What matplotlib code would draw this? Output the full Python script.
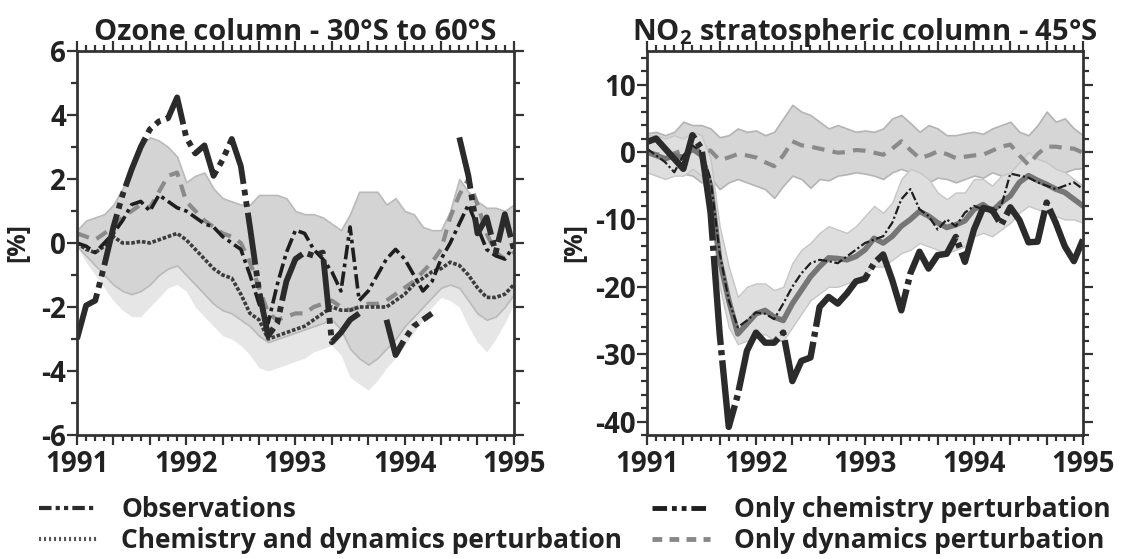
import numpy as np
import matplotlib
matplotlib.use("Agg")
import matplotlib.pyplot as plt
from matplotlib.lines import Line2D
from matplotlib.ticker import FixedLocator, MultipleLocator, FuncFormatter

FONTS = ['Open Sans', 'DejaVu Sans']
plt.rcParams['font.family'] = FONTS
plt.rcParams['font.weight'] = 'bold'
plt.rcParams['axes.unicode_minus'] = False
plt.rcParams['mathtext.fontset'] = 'custom'
plt.rcParams['mathtext.rm'] = 'Open Sans:bold'

# monthly samples, Jan 1991 .. Jan 1995
months = 1991 + np.arange(49) / 12.0
nan = np.nan

# ---- ozone column 30S-60S [%] ----
oz_obs = [-3.0, -1.95, -1.8, -0.7, 0.5, 1.5, 2.3, 3.0, 3.55, 3.8, 3.9, 4.55,
          3.3, 2.8, 3.05, 2.1, 2.6, 3.25, 2.4, 0.5, -1.5, -2.9, -2.5, -1.2,
          -0.5, -0.3, -0.4, -0.3, -3.1, -2.8, -2.4, -2.2, nan, nan, -2.4, -3.5,
          -3.0, -2.6, -2.4, -2.2, nan, nan, 3.3, 2.1, 0.3, 0.8, -0.3, 0.9, -0.2]
oz_chemdyn = [0.0, -0.2, -0.3, -0.1, 0.2, 0.0, 0.0, 0.05, 0.0, 0.1, 0.2, 0.3,
              0.1, -0.2, -0.5, -0.8, -1.0, -1.1, -1.6, -2.2, -2.4, -3.0, -2.9, -2.8,
              -2.7, -2.6, -2.4, -2.2, -2.0, -2.1, -2.1, -2.0, -2.0, -2.0, -2.0, -1.8,
              -1.6, -1.3, -1.1, -0.9, -0.8, -0.6, -0.7, -1.0, -1.4, -1.7, -1.7, -1.6, -1.3]
oz_chem = [0.0, -0.1, -0.3, 0.0, 0.3, 0.7, 1.2, 1.3, 1.0, 1.5, 1.3, 1.1,
           1.0, 0.8, 0.6, 0.5, 0.2, 0.0, -0.2, -1.0, -1.9, -2.5, -1.3, -0.3,
           0.4, 0.3, -0.2, -0.5, -0.9, -1.5, 0.5, -1.8, -1.5, -1.0, -0.5, -0.2,
           -0.5, -1.0, -1.5, -1.2, -0.5, 0.0, 0.6, 1.2, 0.5, -0.2, -0.4, -0.5, -0.1]
oz_dyn = [0.3, 0.2, 0.1, 0.3, 0.5, 0.8, 1.0, 1.2, 1.1, 1.6, 2.1, 2.2,
          1.3, 1.0, 0.7, 0.5, 0.3, 0.2, 0.0, -0.6, -1.4, -2.2, -2.4, -2.3,
          -2.2, -2.2, -2.0, -1.9, -1.8, -2.0, -2.1, -2.0, -1.9, -1.9, -1.8, -1.6,
          -1.4, -1.2, -0.9, -0.6, -0.2, 0.8, 1.5, 2.0, 1.2, 0.3, -0.3, -0.5, -0.3]
oz_band_hi = [0.4, 0.7, 0.8, 0.9, 1.2, 1.7, 2.3, 3.0, 3.3, 3.2, 3.0, 2.7,
              1.9, 2.1, 2.2, 1.7, 1.4, 1.3, 1.2, 1.2, 1.5, 1.5, 1.5, 1.4,
              1.0, 0.9, 0.9, 0.8, 0.6, 0.4, 0.9, 1.6, 1.6, 1.6, 1.2, 1.4,
              1.0, 0.9, 0.5, 0.4, 0.4, 1.0, 2.0, 1.6, 1.3, 1.1, 1.1, 1.0, 1.2]
oz_band_mid = [-0.1, -0.4, -0.7, -1.0, -1.3, -1.5, -1.6, -1.5, -1.3, -1.0, -0.8, -0.7,
               -1.0, -1.3, -1.6, -1.9, -2.1, -2.2, -2.4, -2.6, -2.9, -3.1, -3.0, -2.9,
               -2.8, -2.7, -2.6, -2.5, -2.4, -2.7, -3.3, -3.6, -3.8, -3.6, -3.3, -3.0,
               -2.6, -2.3, -2.0, -1.7, -1.4, -1.3, -1.4, -1.8, -2.2, -2.4, -2.3, -2.0, -1.6]
oz_band_lo = [-0.1, -0.6, -1.0, -1.4, -1.8, -2.1, -2.3, -2.3, -2.0, -1.7, -1.4, -1.3,
              -1.5, -2.0, -2.3, -2.6, -2.9, -3.0, -3.2, -3.5, -3.9, -4.0, -3.9, -3.8,
              -3.7, -3.6, -3.4, -3.3, -3.2, -3.5, -4.2, -4.4, -4.6, -4.3, -3.9, -3.6,
              -3.2, -2.8, -2.4, -2.0, -1.7, -1.8, -2.0, -2.6, -3.1, -3.4, -3.0, -2.5, -1.9]

# ---- NO2 stratospheric column 45S [%] ----
no2_obs = [1.5, 2.0, 0.5, -1.0, -2.5, 2.5, 0.5, -9.0, -27.0, -40.8, -36.0, -29.5,
           -26.8, -28.3, -28.3, -26.8, -34.0, -31.0, -30.5, -23.0, -21.5, -22.5, -21.0, -19.2,
           -18.8, -16.5, -15.2, -19.0, -23.5, -18.0, -14.8, -17.3, -15.3, -15.1, -12.6, -16.3,
           -11.5, -8.3, -8.6, -10.8, -8.2, -10.1, -13.4, -13.3, -7.5, -10.5, -14.0, -16.2, -13.0]
no2_chemdyn = [0.0, -0.5, -1.0, -0.5, -0.8, 0.5, -0.5, -5.0, -16.0, -22.0, -27.0, -25.5,
               -24.0, -23.5, -24.5, -25.0, -22.5, -20.5, -18.5, -17.0, -15.7, -15.8, -16.0, -15.5,
               -14.5, -12.8, -13.5, -12.5, -11.0, -10.0, -8.8, -9.5, -10.5, -11.2, -10.8, -10.2,
               -8.5, -7.8, -8.8, -7.5, -6.5, -4.5, -3.5, -4.2, -4.8, -5.5, -6.0, -7.0, -8.0]
no2_chem = [0.5, -0.5, -1.5, -3.0, -0.5, 1.0, 0.0, -4.0, -15.0, -22.0, -26.0, -25.0,
            -23.8, -24.0, -24.8, -22.5, -20.0, -18.0, -16.5, -16.0, -16.2, -16.5, -15.5, -14.5,
            -13.5, -13.0, -12.5, -10.5, -7.0, -5.5, -8.5, -9.5, -11.5, -10.0, -11.0, -9.0,
            -8.0, -8.5, -9.0, -8.0, -3.2, -3.5, -3.8, -4.5, -5.0, -5.5, -5.0, -4.5, -5.5]
no2_dyn = [0.0, -0.3, -0.5, -0.2, 0.3, 0.2, 0.3, 0.2, -1.2, -0.8, -0.3, -0.5,
           -0.8, -1.5, -2.1, -0.5, 1.6, 1.0, 0.8, 0.5, 0.2, -0.1, 0.0, 0.3,
           0.2, -0.1, -0.4, 0.5, 1.6, 0.3, -0.9, -0.5, 0.1, -0.3, -0.9, -0.7,
           -0.5, -0.4, 0.2, 0.8, 1.1, -0.5, -1.9, -0.3, 0.8, 0.8, 0.6, 0.5, -0.1]
no2_dyn_hi = [2.8, 3.0, 2.5, 3.0, 4.5, 4.0, 4.0, 3.5, 2.2, 2.5, 3.5, 3.0,
              3.2, 2.5, 3.0, 5.0, 7.0, 6.0, 5.5, 4.5, 3.5, 4.0, 3.5, 3.0,
              3.2, 3.0, 3.5, 5.0, 5.5, 4.3, 3.0, 4.0, 3.5, 2.5, 2.5, 2.8,
              3.0, 2.7, 3.5, 4.0, 4.5, 3.0, 2.5, 4.0, 6.0, 4.5, 5.0, 3.5, 2.5]
no2_dyn_lo = [-3.0, -3.3, -3.5, -3.0, -3.2, -3.5, -4.5, -3.8, -5.5, -4.5, -4.0, -4.5,
              -5.0, -5.5, -6.8, -5.0, -3.5, -4.0, -5.3, -4.0, -4.2, -3.5, -3.3, -3.0,
              -3.2, -3.5, -4.0, -3.0, -2.5, -3.0, -4.0, -4.5, -3.8, -4.0, -4.5, -4.0,
              -3.5, -3.8, -3.0, -3.5, -4.3, -5.0, -4.0, -3.0, -3.3, -3.5, -3.0, -2.5, -2.4]
no2_cd_hi = [2.5, 2.5, 2.0, 2.5, 2.0, 3.0, 2.5, -1.0, -11.0, -17.0, -21.5, -20.0,
             -19.5, -19.5, -20.5, -20.0, -16.5, -14.5, -13.5, -12.0, -11.0, -11.5, -12.0, -11.0,
             -9.5, -8.0, -9.0, -7.5, -4.0, -2.5, -3.0, -4.0, -6.0, -7.0, -6.0, -6.0,
             -4.0, -4.0, -5.0, -3.5, -3.0, -1.5, 0.0, -1.0, -1.5, -2.5, -3.0, -4.0, -5.0]
no2_cd_lo = [-3.0, -3.5, -4.0, -3.5, -3.5, -2.5, -3.5, -9.0, -20.0, -26.0, -28.5, -28.0,
             -27.5, -27.0, -28.0, -28.0, -26.0, -24.0, -22.0, -21.0, -20.0, -20.0, -19.5, -19.0,
             -18.0, -17.0, -17.0, -16.0, -15.0, -14.5, -13.5, -14.0, -14.5, -15.0, -14.5, -14.0,
             -12.5, -12.0, -12.5, -11.5, -10.5, -9.0, -8.0, -8.5, -9.0, -9.5, -10.0, -10.0, -10.5]

obs_style = dict(color='#2b2b2b', lw=4.2, dashes=(9, 1, 1, 1, 1, 1))
cd_style = dict(color='#3c3c3c', lw=2.6, dashes=(1, 0.5))
chem_style = dict(color='#1e1e1e', lw=2.6, dashes=(4, 1.2, 1, 1.2))
dyn_style = dict(color='#8a8a8a', lw=3.0, dashes=(3, 2))
TXT = '#222222'

fig = plt.figure(figsize=(11.26, 5.59), dpi=100)
ax1 = fig.add_axes([0.0684, 0.2218, 0.388, 0.687])
ax2 = fig.add_axes([0.5746, 0.2218, 0.3872, 0.687])


def style_axis(ax):
    ax.set_xlim(1991, 1995)
    ax.xaxis.set_major_locator(FixedLocator(1991 + np.arange(13) / 3.0))
    ax.xaxis.set_minor_locator(MultipleLocator(1 / 12.0))
    ax.xaxis.set_major_formatter(FuncFormatter(
        lambda v, p: str(int(round(v))) if abs(v - round(v)) < 1e-6 else ''))
    ax.tick_params(which='both', direction='out', top=True, right=True,
                   width=1.6, color='#333333', labelsize=20, pad=1)
    ax.tick_params(axis='x', which='major', pad=4)
    ax.tick_params(which='major', length=7)
    ax.tick_params(which='minor', length=4)
    for s in ax.spines.values():
        s.set_linewidth(2)
        s.set_color('#333333')
    for lab in ax.get_xticklabels() + ax.get_yticklabels():
        lab.set_fontweight('bold')
        lab.set_color(TXT)


# left panel
ax1.fill_between(months, oz_band_lo, oz_band_hi, color='#e6e6e6', lw=0)
ax1.fill_between(months, oz_band_mid, oz_band_hi, color='#d4d4d4',
                 edgecolor='#bababa', lw=1.2)
ax1.plot(months, oz_dyn, **dyn_style)
ax1.plot(months, oz_chemdyn, **cd_style)
ax1.plot(months, oz_chem, **chem_style)
ax1.plot(months, oz_obs, **obs_style)
ax1.set_ylim(-6, 6)
ax1.yaxis.set_major_locator(MultipleLocator(2))
ax1.yaxis.set_minor_locator(MultipleLocator(1))
style_axis(ax1)
ax1.set_title('Ozone column - 30°S to 60°S', fontsize=21, fontweight='bold',
              color=TXT, pad=8)
ax1.set_ylabel('[%]', fontsize=18, fontweight='bold', color=TXT, labelpad=8)

# right panel
ax2.fill_between(months, no2_dyn_lo, no2_dyn_hi, color='#d6d6d6',
                 edgecolor='#b4b4b4', lw=1.2)
ax2.fill_between(months, no2_cd_lo, no2_cd_hi, color='#dedede',
                 edgecolor='#c6c6c6', lw=1.0)
ax2.plot(months, no2_dyn, **dyn_style)
ax2.plot(months, no2_chemdyn, color='#767676', lw=4.0)
ax2.plot(months, no2_chem, color='#1e1e1e', lw=1.6, dashes=(4, 1.2, 1, 1.2))
ax2.plot(months, no2_obs, color='#2b2b2b', lw=4.6, dashes=(14, 0.8, 0.8, 0.8))
ax2.set_ylim(-42, 15)
ax2.yaxis.set_major_locator(MultipleLocator(10))
ax2.yaxis.set_minor_locator(MultipleLocator(2))
style_axis(ax2)
ax2.set_title(r'NO$_\mathrm{2}$ stratospheric column - 45°S', fontsize=21,
              fontweight='bold', color=TXT, pad=8)
ax2.set_ylabel('[%]', fontsize=18, fontweight='bold', color=TXT, labelpad=6)

# legends
h_obs = Line2D([], [], color='#2b2b2b', lw=3, dashes=(3, 1, 1, 1, 1, 1))
h_cd = Line2D([], [], color='#555555', lw=3, dashes=(0.5, 0.7))
h_chem = Line2D([], [], color='#1e1e1e', lw=3.5, dashes=(3, 1, 1, 1, 1, 1))
h_dyn = Line2D([], [], color='#888888', lw=3.5, dashes=(2, 1.5))
leg_kw = dict(frameon=False, handlelength=2.2, handletextpad=0.9,
              labelspacing=0.15, borderaxespad=0, borderpad=0,
              prop=dict(family=FONTS, weight='bold', size=19))
l1 = fig.legend([h_obs, h_cd], ['Observations', 'Chemistry and dynamics perturbation'],
                loc='upper left', bbox_to_anchor=(0.035, 0.112), **leg_kw)
l2 = fig.legend([h_chem, h_dyn], ['Only chemistry perturbation', 'Only dynamics perturbation'],
                loc='upper left', bbox_to_anchor=(0.579, 0.112), **leg_kw)
for leg in (l1, l2):
    for t in leg.get_texts():
        t.set_color(TXT)

fig.savefig('out.png', dpi=100)
